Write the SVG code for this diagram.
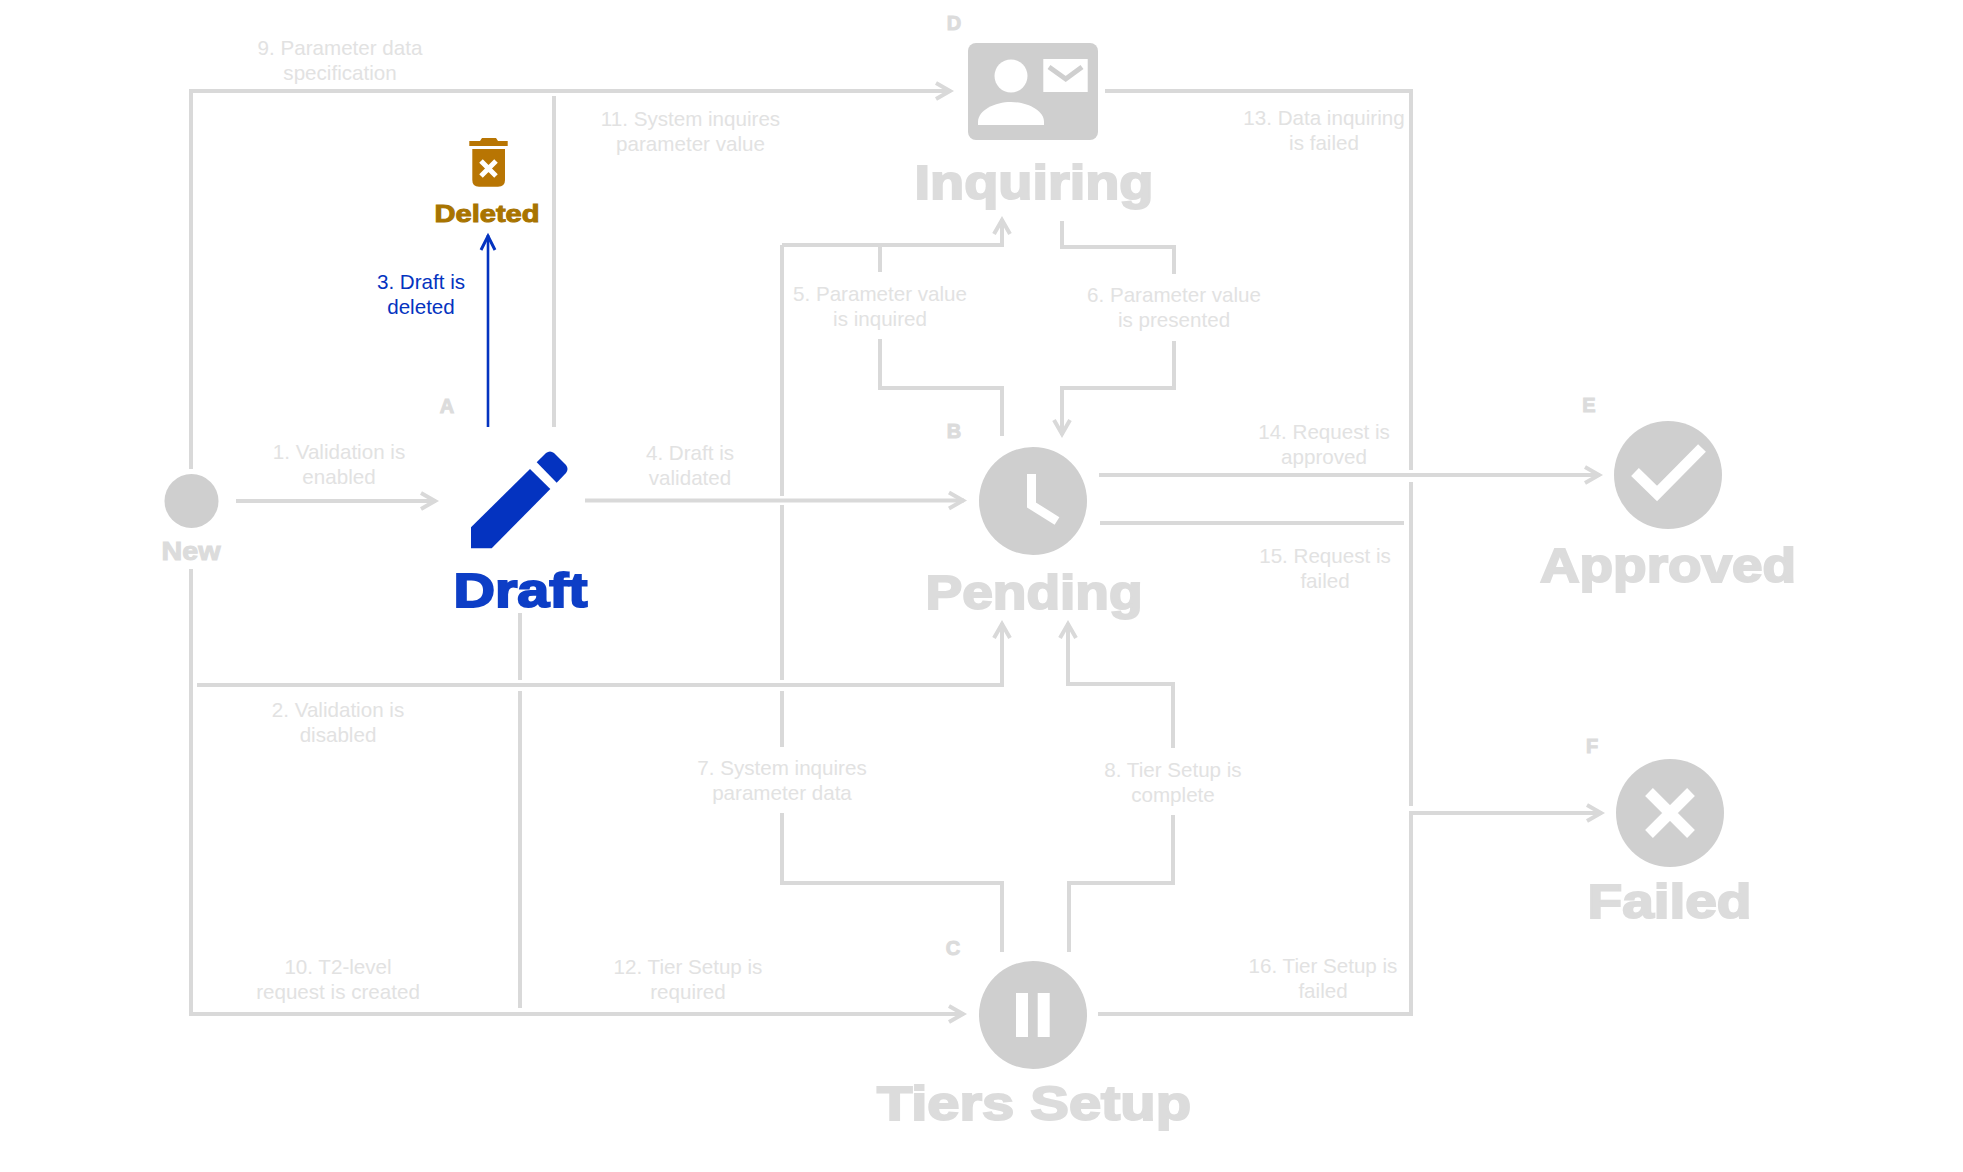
<svg xmlns="http://www.w3.org/2000/svg" width="1963" height="1172" viewBox="0 0 1963 1172">
<style>
text{font-family:"Liberation Sans",Arial,sans-serif}
.c{fill:none;stroke:#d9d9d9;stroke-width:4;stroke-miterlimit:10}
.l{font-size:20.6px;fill:#e2e2e2;text-anchor:middle}
.t{font-weight:bold;fill:#dcdcdc;stroke:#dcdcdc;text-anchor:middle;stroke-width:2;stroke-linejoin:miter;font-size:48px}
.k{font-weight:bold;fill:#dcdcdc;stroke:#dcdcdc;stroke-width:1;text-anchor:middle;font-size:20px}
.i{fill:#cfcfcf}
.w{fill:none;stroke:#fff}
</style>
<defs>
<marker id="ah" markerUnits="userSpaceOnUse" markerWidth="24" markerHeight="24" viewBox="-20 -12 24 24" refX="0" refY="0" orient="auto"><path d="M-15 -8L-1 0L-15 8" fill="none" stroke="#d9d9d9" stroke-width="4"/></marker>
<marker id="bh" markerUnits="userSpaceOnUse" markerWidth="24" markerHeight="24" viewBox="-20 -12 24 24" refX="0" refY="0" orient="auto"><path d="M-15 -7L-1 0L-15 7" fill="none" stroke="#0433c0" stroke-width="3"/></marker>
</defs>
<rect width="1963" height="1172" fill="#fff"/>
<g id="connectors">
<path class="c" d="M191 469V91H951" marker-end="url(#ah)"/>
<path class="c" d="M554 96V427"/>
<path class="c" d="M191 569V1014H964" marker-end="url(#ah)"/>
<path class="c" d="M236 501H436" marker-end="url(#ah)"/>
<path class="c" d="M197 685H1002V623" marker-end="url(#ah)"/>
<path class="c" d="M585 500.5H964" marker-end="url(#ah)"/>
<path class="c" d="M520 613V680M520 691V1008"/>
<path class="c" d="M782 245V496M782 505V680M782 691V747"/>
<path class="c" d="M880 339V388H1002V436"/>
<path class="c" d="M880 272V245"/>
<path class="c" d="M782 245H1002V219" marker-end="url(#ah)"/>
<path class="c" d="M1062 221V247H1174V274"/>
<path class="c" d="M1174 341V388H1062V435" marker-end="url(#ah)"/>
<path class="c" d="M782 813V883H1002V952"/>
<path class="c" d="M1173 748V684H1068V623" marker-end="url(#ah)"/>
<path class="c" d="M1173 815V883H1069V952"/>
<path class="c" d="M1105 91H1411V470M1411 482V806M1411 811V1014H1098"/>
<path class="c" d="M1099 475H1600" marker-end="url(#ah)"/>
<path class="c" d="M1100 523H1404"/>
<path class="c" d="M1411 813H1602" marker-end="url(#ah)"/>
<path d="M488 427V235" fill="none" stroke="#0433c0" stroke-width="2.6" marker-end="url(#bh)"/>
</g>
<g id="labels">
<text class="l"><tspan x="339" y="459">1. Validation is</tspan><tspan x="339" y="484">enabled</tspan></text>
<text class="l"><tspan x="338" y="717">2. Validation is</tspan><tspan x="338" y="742">disabled</tspan></text>
<text style="font-size:20.6px;fill:#0433c0;text-anchor:middle"><tspan x="421" y="289">3. Draft is</tspan><tspan x="421" y="314">deleted</tspan></text>
<text class="l"><tspan x="690" y="460">4. Draft is</tspan><tspan x="690" y="485">validated</tspan></text>
<text class="l"><tspan x="880" y="301">5. Parameter value</tspan><tspan x="880" y="326">is inquired</tspan></text>
<text class="l"><tspan x="1174" y="302">6. Parameter value</tspan><tspan x="1174" y="327">is presented</tspan></text>
<text class="l"><tspan x="782" y="775">7. System inquires</tspan><tspan x="782" y="800">parameter data</tspan></text>
<text class="l"><tspan x="1173" y="777">8. Tier Setup is</tspan><tspan x="1173" y="802">complete</tspan></text>
<text class="l"><tspan x="340" y="55">9. Parameter data</tspan><tspan x="340" y="80">specification</tspan></text>
<text class="l"><tspan x="338" y="974">10. T2-level</tspan><tspan x="338" y="999">request is created</tspan></text>
<text class="l"><tspan x="690.5" y="126">11. System inquires</tspan><tspan x="690.5" y="151">parameter value</tspan></text>
<text class="l"><tspan x="688" y="974">12. Tier Setup is</tspan><tspan x="688" y="999">required</tspan></text>
<text class="l"><tspan x="1324" y="125">13. Data inquiring</tspan><tspan x="1324" y="150">is failed</tspan></text>
<text class="l"><tspan x="1324" y="439">14. Request is</tspan><tspan x="1324" y="464">approved</tspan></text>
<text class="l"><tspan x="1325" y="563">15. Request is</tspan><tspan x="1325" y="588">failed</tspan></text>
<text class="l"><tspan x="1323" y="973">16. Tier Setup is</tspan><tspan x="1323" y="998">failed</tspan></text>
</g>
<g id="node-new">
<circle class="i" cx="191.500" cy="501" r="27"/>
<text class="t" x="191" y="560" style="font-size:25px;stroke-width:1" textLength="59" lengthAdjust="spacingAndGlyphs">New</text>
</g>
<g id="node-draft">
<text class="k" x="447" y="413">A</text>
<path d="M471 527.3L530 469L550.3 489L491.7 548.3H471Z" fill="#0433c0"/>
<path d="M536.7 462.3L546 453Q550 450 554 453L566 465Q569 469 566 473L556.7 482.7Z" fill="#0433c0"/>
<text class="t" x="520.5" y="607" style="fill:#0d3ec6;stroke:#0d3ec6" textLength="134" lengthAdjust="spacingAndGlyphs">Draft</text>
</g>
<g id="node-deleted">
<path d="M469.3 141H480L482 138H496L498 141H507.7V146H469.3Z" fill="#b87503"/>
<path d="M472.3 149H505V180Q505 186.7 498 186.7H479Q472.3 186.7 472.3 180Z" fill="#b87503"/>
<path class="w" d="M481 161L496 176M496 161L481 176" stroke-width="5"/>
<text class="t" x="487" y="222" style="font-size:24px;fill:#a87400;stroke:#a87400;stroke-width:1" textLength="105" lengthAdjust="spacingAndGlyphs">Deleted</text>
</g>
<g id="node-pending">
<text class="k" x="954" y="438">B</text>
<circle class="i" cx="1033" cy="501" r="54"/>
<path class="w" d="M1031.5 474V505L1057 521" stroke-width="9"/>
<text class="t" x="1034" y="609" textLength="217" lengthAdjust="spacingAndGlyphs">Pending</text>
</g>
<g id="node-inquiring">
<text class="k" x="954" y="30">D</text>
<rect class="i" x="968" y="43" width="130" height="97" rx="8"/>
<circle cx="1011" cy="76" r="16.5" fill="#fff"/>
<path d="M978 125V122C978 110 995 102 1011 102C1027 102 1044 110 1044 122V125Z" fill="#fff"/>
<rect x="1043.3" y="59" width="44.4" height="33" fill="#fff"/>
<path d="M1049 67L1065.7 79L1082 67" fill="none" stroke="#cfcfcf" stroke-width="5"/>
<text class="t" x="1034" y="199" textLength="239" lengthAdjust="spacingAndGlyphs">Inquiring</text>
</g>
<g id="node-tiers">
<text class="k" x="953" y="955">C</text>
<circle class="i" cx="1033" cy="1015" r="54"/>
<rect x="1016" y="993" width="12" height="44" fill="#fff"/>
<rect x="1037.7" y="993" width="12" height="44" fill="#fff"/>
<text class="t" x="1034" y="1120" textLength="314" lengthAdjust="spacingAndGlyphs">Tiers Setup</text>
</g>
<g id="node-approved">
<text class="k" x="1589" y="412">E</text>
<circle class="i" cx="1668" cy="475" r="54"/>
<path class="w" d="M1635 472L1657 493.5L1702 448" stroke-width="11"/>
<text class="t" x="1668" y="582" textLength="256" lengthAdjust="spacingAndGlyphs">Approved</text>
</g>
<g id="node-failed">
<text class="k" x="1592" y="753">F</text>
<circle class="i" cx="1670" cy="813" r="54"/>
<path class="w" d="M1649 792L1691 834M1691 792L1649 834" stroke-width="11"/>
<text class="t" x="1669.500" y="918" textLength="164" lengthAdjust="spacingAndGlyphs">Failed</text>
</g>
</svg>
